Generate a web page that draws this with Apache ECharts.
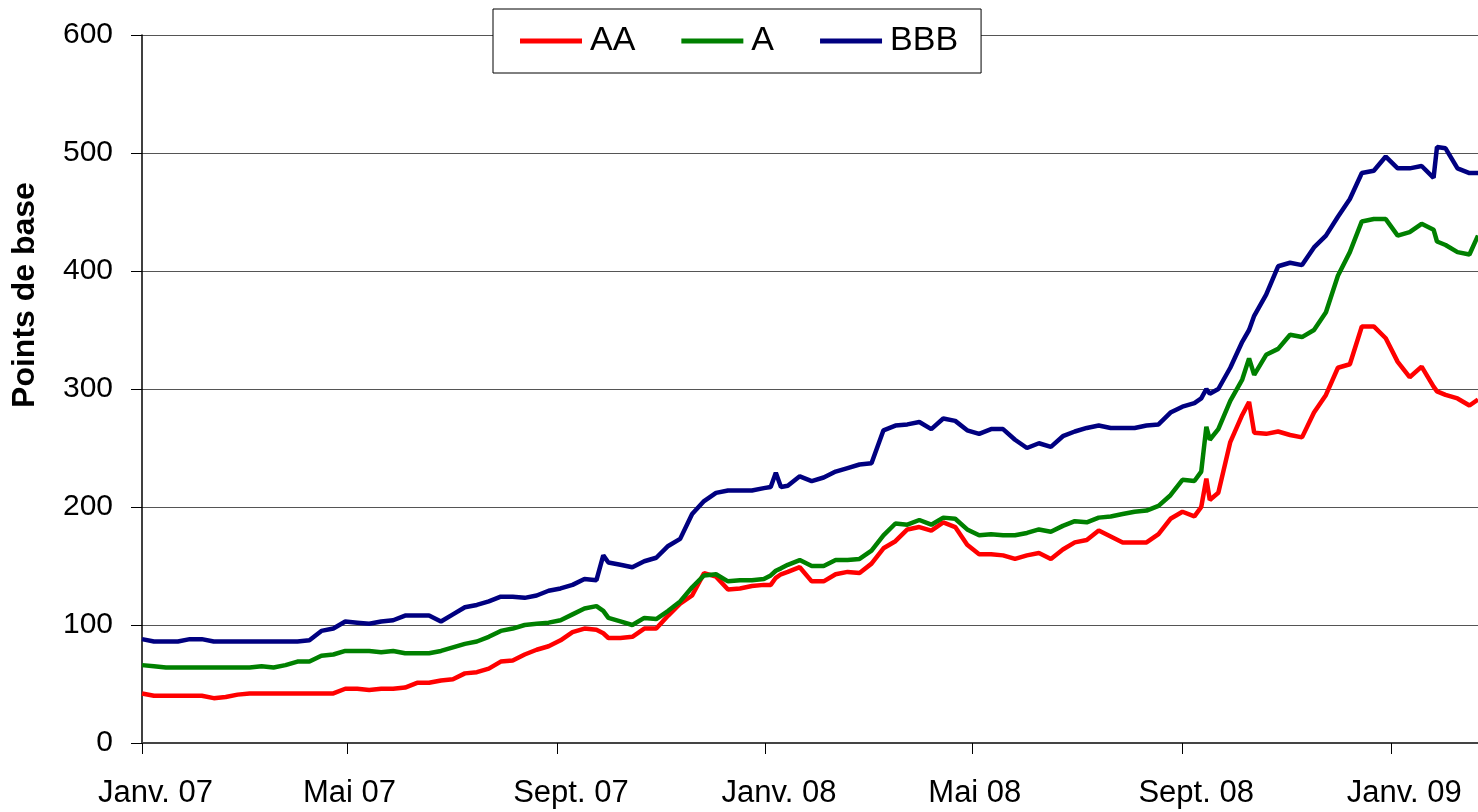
<!DOCTYPE html>
<html>
<head>
<meta charset="utf-8">
<title>Spreads AA / A / BBB</title>
<script src="https://cdn.jsdelivr.net/npm/echarts@6/dist/echarts.min.js"></script>
<style>
  html, body { margin: 0; padding: 0; background: #fff; }
  #chart { width: 1478px; height: 812px; }
</style>
</head>
<body>
<div id="chart"></div>
<script>
// dates des observations (hebdomadaires + quelques points de pic)
const dates = [
  '2007-01-01', '2007-01-08', '2007-01-15', '2007-01-22', '2007-01-29',
  '2007-02-05', '2007-02-12', '2007-02-19', '2007-02-26',
  '2007-03-05', '2007-03-12', '2007-03-19', '2007-03-26',
  '2007-04-02', '2007-04-09', '2007-04-16', '2007-04-23', '2007-04-30',
  '2007-05-07', '2007-05-14', '2007-05-21', '2007-05-28',
  '2007-06-04', '2007-06-11', '2007-06-18', '2007-06-25',
  '2007-07-02', '2007-07-09', '2007-07-16', '2007-07-23', '2007-07-30',
  '2007-08-06', '2007-08-13', '2007-08-20', '2007-08-27',
  '2007-09-03', '2007-09-10', '2007-09-17', '2007-09-24', '2007-09-28',
  '2007-10-01', '2007-10-08', '2007-10-15', '2007-10-22', '2007-10-29',
  '2007-11-05', '2007-11-12', '2007-11-19', '2007-11-26',
  '2007-12-03', '2007-12-10', '2007-12-17', '2007-12-24', '2007-12-31',
  '2008-01-04', '2008-01-07', '2008-01-10', '2008-01-14', '2008-01-21', '2008-01-28',
  '2008-02-04', '2008-02-11', '2008-02-18', '2008-02-25',
  '2008-03-03', '2008-03-10', '2008-03-17', '2008-03-24', '2008-03-31',
  '2008-04-07', '2008-04-14', '2008-04-21', '2008-04-28',
  '2008-05-05', '2008-05-12', '2008-05-19', '2008-05-26',
  '2008-06-02', '2008-06-09', '2008-06-16', '2008-06-23', '2008-06-30',
  '2008-07-07', '2008-07-14', '2008-07-21', '2008-07-28',
  '2008-08-04', '2008-08-11', '2008-08-18', '2008-08-25',
  '2008-09-01', '2008-09-08', '2008-09-12', '2008-09-15', '2008-09-17', '2008-09-22', '2008-09-29',
  '2008-10-06', '2008-10-10', '2008-10-13', '2008-10-20', '2008-10-27',
  '2008-11-03', '2008-11-10', '2008-11-17', '2008-11-24',
  '2008-12-01', '2008-12-08', '2008-12-15', '2008-12-22', '2008-12-29',
  '2009-01-05', '2009-01-12', '2009-01-19', '2009-01-26', '2009-01-28',
  '2009-02-02', '2009-02-09', '2009-02-16', '2009-02-21'
]

const spreadAA = [
  42, 40, 40, 40, 40,
  40, 38, 39, 41,
  42, 42, 42, 42,
  42, 42, 42, 42, 46,
  46, 45, 46, 46,
  47, 51, 51, 53,
  54, 59, 60, 63, 69,
  70, 75, 79, 82,
  87, 94, 97, 96, 93,
  89, 89, 90, 97, 97,
  108, 118, 125, 144,
  141, 130, 131, 133, 134,
  134, 140, 143, 145, 149, 137,
  137, 143, 145, 144,
  152, 165, 171, 181, 183,
  180, 187, 183, 168,
  160, 160, 159, 156,
  159, 161, 156, 164, 170,
  172, 180, 175, 170,
  170, 170, 177, 190,
  196, 192, 200, 224, 206, 212, 255,
  278, 289, 263, 262, 264,
  261, 259, 280, 295,
  318, 321, 353, 353, 343,
  323, 310, 319, 302, 298,
  295, 292, 286, 291
]

const spreadA = [
  66, 65, 64, 64, 64,
  64, 64, 64, 64,
  64, 65, 64, 66,
  69, 69, 74, 75, 78,
  78, 78, 77, 78,
  76, 76, 76, 78,
  81, 84, 86, 90, 95,
  97, 100, 101, 102,
  104, 109, 114, 116, 112,
  106, 103, 100, 106, 105,
  112, 120, 132, 142,
  143, 137, 138, 138, 139,
  142, 146, 148, 151, 155, 150,
  150, 155, 155, 156,
  163, 176, 186, 185, 189,
  185, 191, 190, 181,
  176, 177, 176, 176,
  178, 181, 179, 184, 188,
  187, 191, 192, 194,
  196, 197, 201, 210,
  223, 222, 230, 268, 257, 266, 290,
  308, 326, 312, 329, 334,
  346, 344, 350, 365,
  396, 416, 442, 444, 444,
  430, 433, 440, 435, 425,
  422, 416, 414, 430
]

const spreadBBB = [
  88, 86, 86, 86, 88,
  88, 86, 86, 86,
  86, 86, 86, 86,
  86, 87, 95, 97, 103,
  102, 101, 103, 104,
  108, 108, 108, 103,
  109, 115, 117, 120, 124,
  124, 123, 125, 129,
  131, 134, 139, 138, 159,
  153, 151, 149, 154, 157,
  167, 173, 194, 205,
  212, 214, 214, 214, 216,
  217, 229, 217, 218, 226, 222,
  225, 230, 233, 236,
  237, 265, 269, 270, 272,
  266, 275, 273, 265,
  262, 266, 266, 257,
  250, 254, 251, 260, 264,
  267, 269, 267, 267,
  267, 269, 270, 280,
  285, 288, 292, 300, 296, 300, 318,
  340, 350, 362, 380, 404,
  407, 405, 420, 430,
  446, 461, 483, 485, 497,
  487, 487, 489, 479, 505,
  504, 487, 483, 483
]

// graduations de l'axe des abscisses
const tickDates = ['2007-01-01', '2007-05-01', '2007-09-01', '2008-01-01', '2008-05-01', '2008-09-01', '2009-01-01']
const tickLabels = ['Janv. 07', 'Mai 07', 'Sept. 07', 'Janv. 08', 'Mai 08', 'Sept. 08', 'Janv. 09']

const seriesNames = ['AA', 'A', 'BBB']
const seriesColors = ['#ff0000', '#008000', '#000080']

const toTime = (s) => {
  const [y, m, d] = s.split('-').map(Number)
  return Date.UTC(y, m - 1, d)
}

const font = '"Liberation Sans", Arial, sans-serif'
const xMin = toTime('2007-01-01')
const xMax = toTime('2009-02-21')
const plotLeft = 142
const plotWidth = 1478 - plotLeft
const labelFontSize = 31

const tickTimes = tickDates.map(toTime)

// comme dans Excel, le libellé commence ~44 px avant sa graduation :
// on calcule le centre de chaque libellé à partir de sa largeur mesurée
const measureCtx = document.createElement('canvas').getContext('2d')
measureCtx.font = labelFontSize + 'px ' + font
const msPerPx = (xMax - xMin) / plotWidth
const labelTimes = tickTimes.map((t, i) => {
  const w = measureCtx.measureText(tickLabels[i]).width
  return Math.round(t + (w / 2 - 44) * msPerPx)
})

const chart = echarts.init(document.getElementById('chart'))

const makeSeries = (name, values, color) => ({
  name,
  type: 'line',
  data: dates.map((d, i) => [toTime(d), values[i]]),
  showSymbol: false,
  symbol: 'none',
  lineStyle: { width: 4.5, color },
  itemStyle: { color },
  emphasis: { disabled: true }
})

const option = {
  backgroundColor: '#fff',
  animation: false,
  grid: {
    left: plotLeft,
    right: 0,
    top: 35,
    bottom: 69
  },
  legend: {
    data: seriesNames,
    left: 493,
    top: 9,
    orient: 'horizontal',
    icon: 'rect',
    itemWidth: 62,
    itemHeight: 5,
    itemGap: 46,
    padding: [14, 23, 14, 27],
    borderColor: '#000',
    borderWidth: 1,
    backgroundColor: '#fff',
    textStyle: {
      fontFamily: font,
      fontSize: 34,
      color: '#000',
      lineHeight: 36,
      padding: [0, 0, 0, 3]
    }
  },
  // axe des temps en valeur (ms), graduations aux débuts de mois
  xAxis: {
    type: 'value',
    min: xMin,
    max: xMax,
    axisLine: { show: true, lineStyle: { color: '#444', width: 2 } },
    axisTick: {
      show: true,
      length: 11,
      customValues: tickTimes,
      lineStyle: { color: '#000', width: 1 }
    },
    axisLabel: {
      customValues: labelTimes,
      align: 'center',
      margin: 35,
      fontFamily: font,
      fontSize: labelFontSize,
      color: '#000',
      formatter: (val) => {
        const idx = labelTimes.indexOf(val)
        return idx >= 0 ? tickLabels[idx] : ''
      }
    },
    splitLine: { show: false }
  },
  yAxis: {
    type: 'value',
    min: 0,
    max: 600,
    interval: 100,
    axisLine: { show: true, lineStyle: { color: '#000', width: 1.5 } },
    axisTick: { show: true, length: 11, lineStyle: { color: '#000' } },
    axisLabel: {
      margin: 29,
      fontFamily: font,
      fontSize: 30,
      color: '#000'
    },
    splitLine: { show: true, lineStyle: { color: '#555', width: 1 } }
  },
  graphic: [
    {
      type: 'text',
      x: 25,
      y: 295,
      rotation: Math.PI / 2,
      style: {
        text: 'Points de base',
        fontFamily: font,
        fontWeight: 'bold',
        fontSize: 32,
        fill: '#000',
        align: 'center',
        verticalAlign: 'middle'
      }
    }
  ],
  series: [
    makeSeries(seriesNames[0], spreadAA, seriesColors[0]),
    makeSeries(seriesNames[1], spreadA, seriesColors[1]),
    makeSeries(seriesNames[2], spreadBBB, seriesColors[2])
  ]
}

chart.setOption(option)

window.addEventListener('resize', () => {
  chart.resize()
})
</script>
</body>
</html>
